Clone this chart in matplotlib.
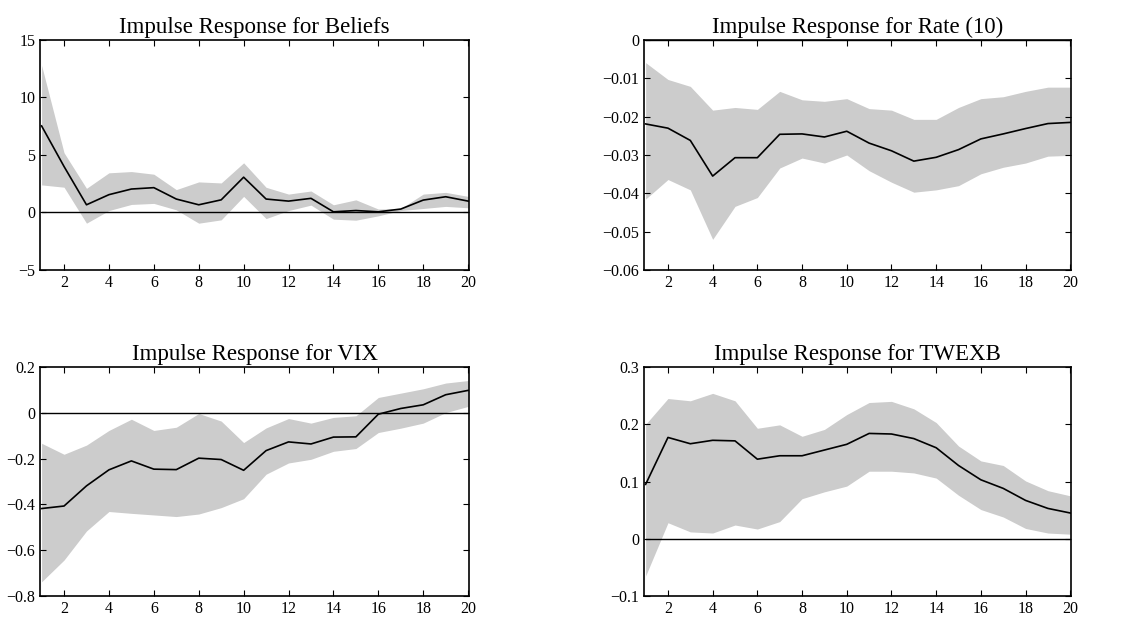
import matplotlib
matplotlib.use("Agg")
import matplotlib.pyplot as plt
import numpy as np

plt.rcParams['font.family'] = ['Liberation Serif', 'DejaVu Serif']
plt.rcParams['axes.unicode_minus'] = True

# Horizons
horizon = np.arange(1, 21)

# Impulse response for Beliefs
beliefs_mid = [7.53, 4.0, 0.67, 1.55, 2.04, 2.16, 1.17, 0.67, 1.1, 3.07,
               1.17, 0.99, 1.23, 0.06, 0.17, 0.06, 0.3, 1.08, 1.37, 0.99]
beliefs_hi = [12.8, 5.2, 2.1, 3.45, 3.56, 3.33, 1.99, 2.66, 2.57, 4.32,
              2.19, 1.6, 1.87, 0.67, 1.1, 0.3, 0.35, 1.6, 1.75, 1.4]
beliefs_lo = [2.4, 2.2, -0.93, 0.17, 0.7, 0.79, 0.23, -0.93, -0.64, 1.4,
              -0.53, 0.17, 0.64, -0.58, -0.67, -0.29, 0.17, 0.35, 0.53, 0.41]

# Impulse response for Rate (10)
rate_mid = [-0.0219, -0.0230, -0.0262, -0.0355, -0.0307, -0.0307, -0.0246, -0.0245, -0.0253, -0.0238,
            -0.0269, -0.0289, -0.0316, -0.0306, -0.0286, -0.0258, -0.0245, -0.0231, -0.0218, -0.0215]
rate_hi = [-0.0059, -0.0103, -0.0121, -0.0183, -0.0176, -0.0181, -0.0134, -0.0156, -0.0160, -0.0153,
           -0.0179, -0.0183, -0.0207, -0.0207, -0.0176, -0.0153, -0.0148, -0.0134, -0.0123, -0.0123]
rate_lo = [-0.0415, -0.0364, -0.0391, -0.0520, -0.0434, -0.0411, -0.0334, -0.0308, -0.0321, -0.0300,
           -0.0341, -0.0371, -0.0397, -0.0391, -0.0380, -0.0349, -0.0332, -0.0321, -0.0303, -0.0301]

# Impulse response for VIX
vix_mid = [-0.418, -0.407, -0.319, -0.249, -0.210, -0.246, -0.248, -0.198, -0.204, -0.251,
           -0.165, -0.127, -0.136, -0.106, -0.105, -0.006, 0.019, 0.035, 0.079, 0.098]
vix_hi = [-0.133, -0.181, -0.141, -0.077, -0.028, -0.077, -0.063, -0.003, -0.036, -0.130,
          -0.066, -0.025, -0.045, -0.020, -0.013, 0.067, 0.086, 0.105, 0.130, 0.141]
vix_lo = [-0.738, -0.643, -0.516, -0.431, -0.439, -0.446, -0.453, -0.442, -0.414, -0.375,
          -0.268, -0.219, -0.203, -0.168, -0.156, -0.086, -0.067, -0.045, 0.001, 0.028]

# Impulse response for TWEXB
twexb_mid = [0.095, 0.177, 0.166, 0.172, 0.171, 0.139, 0.145, 0.145, 0.155, 0.165,
             0.184, 0.183, 0.175, 0.159, 0.128, 0.103, 0.088, 0.067, 0.053, 0.045]
twexb_hi = [0.200, 0.245, 0.241, 0.254, 0.241, 0.193, 0.199, 0.179, 0.191, 0.217,
            0.238, 0.240, 0.227, 0.203, 0.162, 0.136, 0.128, 0.101, 0.084, 0.075]
twexb_lo = [-0.065, 0.028, 0.012, 0.010, 0.024, 0.017, 0.030, 0.070, 0.082, 0.092,
            0.118, 0.118, 0.115, 0.106, 0.076, 0.051, 0.038, 0.018, 0.010, 0.008]

titles = ['Impulse Response for Beliefs', 'Impulse Response for Rate (10)',
          'Impulse Response for VIX', 'Impulse Response for TWEXB']
mids = [beliefs_mid, rate_mid, vix_mid, twexb_mid]
highs = [beliefs_hi, rate_hi, vix_hi, twexb_hi]
lows = [beliefs_lo, rate_lo, vix_lo, twexb_lo]
y_limits = [(-5, 15), (-0.06, 0), (-0.8, 0.2), (-0.1, 0.3)]
y_ticks = [[-5, 0, 5, 10, 15],
           [-0.06, -0.05, -0.04, -0.03, -0.02, -0.01, 0],
           [-0.8, -0.6, -0.4, -0.2, 0, 0.2],
           [-0.1, 0, 0.1, 0.2, 0.3]]
y_labels = [['\u22125', '0', '5', '10', '15'],
            ['\u22120.06', '\u22120.05', '\u22120.04', '\u22120.03', '\u22120.02', '\u22120.01', '0'],
            ['\u22120.8', '\u22120.6', '\u22120.4', '\u22120.2', '0', '0.2'],
            ['\u22120.1', '0', '0.1', '0.2', '0.3']]

# axes boxes [left, bottom, width, height]
boxes = [[0.0356, 0.5687, 0.3817, 0.3674],
         [0.5730, 0.5687, 0.3800, 0.3674],
         [0.0356, 0.0479, 0.3817, 0.3658],
         [0.5730, 0.0479, 0.3800, 0.3658]]

fig = plt.figure(figsize=(11.24, 6.26), dpi=100)

for i in range(4):
    ax = fig.add_axes(boxes[i])
    ax.fill_between(horizon, lows[i], highs[i], color='#cccccc', linewidth=0)
    ax.plot(horizon, mids[i], color='black', linewidth=1.2)
    ax.plot([horizon[0], horizon[-1]], [0, 0], color='black', linewidth=1.0)
    ax.set_xlim(0.93, 20.04)
    ax.set_ylim(*y_limits[i])
    ax.set_xticks(range(2, 21, 2))
    ax.set_yticks(y_ticks[i])
    ax.set_yticklabels(y_labels[i])
    ax.tick_params(direction='in', top=True, right=True, labelsize=11.5,
                   length=4, width=0.8)
    for s in ax.spines.values():
        s.set_linewidth(1.2)
    ax.set_title(titles[i], fontsize=16.5, pad=5)

fig.savefig('out.png', dpi=100)
